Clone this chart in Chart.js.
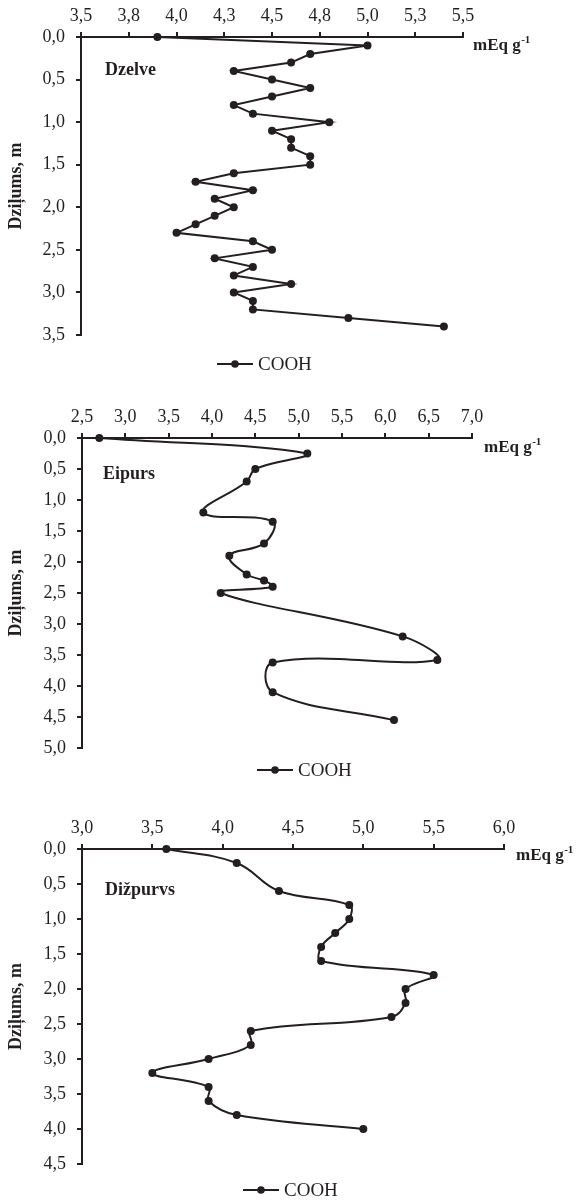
<!DOCTYPE html>
<html>
<head>
<meta charset="utf-8">
<script src="https://cdn.jsdelivr.net/npm/chart.js@4.4.1/dist/chart.umd.min.js"></script>
<style>
    body { margin: 0; background: #fff; }
    .panel { position: absolute; left: 0; width: 581px; }
    canvas { display: block; }
</style>
</head>
<body>
<div class="panel" style="top:0"><canvas id="dzelve" width="581" height="400"></canvas></div>
<div class="panel" style="top:400px"><canvas id="eipurs" width="581" height="400"></canvas></div>
<div class="panel" style="top:800px"><canvas id="dizpurvs" width="581" height="403"></canvas></div>
<script>
//Data: depth (m) and COOH (mEq g-1)
var dzelveDepth = [0.0, 0.1, 0.2, 0.3, 0.4, 0.5, 0.6, 0.7, 0.8, 0.9, 1.0, 1.1, 1.2, 1.3, 1.4, 1.5, 1.6, 1.7,
    1.8, 1.9, 2.0, 2.1, 2.2, 2.3, 2.4, 2.5, 2.6, 2.7, 2.8, 2.9, 3.0, 3.1, 3.2, 3.3, 3.4];
var dzelveCooh = [3.9, 5.0, 4.7, 4.6, 4.3, 4.5, 4.7, 4.5, 4.3, 4.4, 4.8, 4.5, 4.6, 4.6, 4.7, 4.7, 4.3, 4.1,
    4.4, 4.2, 4.3, 4.2, 4.1, 4.0, 4.4, 4.5, 4.2, 4.4, 4.3, 4.6, 4.3, 4.4, 4.4, 4.9, 5.4];
var dzelveXTicks = [3.5, 3.75, 4.0, 4.25, 4.5, 4.75, 5.0, 5.25, 5.5];
var dzelveYTicks = [0, 0.5, 1.0, 1.5, 2.0, 2.5, 3.0, 3.5];

var eipursDepth = [0.0, 0.25, 0.5, 0.7, 1.2, 1.35, 1.7, 1.9, 2.2, 2.3, 2.4, 2.5, 3.2, 3.58, 3.62, 4.1, 4.55];
var eipursCooh = [2.7, 5.1, 4.5, 4.4, 3.9, 4.7, 4.6, 4.2, 4.4, 4.6, 4.7, 4.1, 6.2, 6.6, 4.7, 4.7, 6.1];
var eipursXTicks = [2.5, 3.0, 3.5, 4.0, 4.5, 5.0, 5.5, 6.0, 6.5, 7.0];
var eipursYTicks = [0, 0.5, 1.0, 1.5, 2.0, 2.5, 3.0, 3.5, 4.0, 4.5, 5.0];

var dizpurvsDepth = [0.0, 0.2, 0.6, 0.8, 1.0, 1.2, 1.4, 1.6, 1.8, 2.0, 2.2, 2.4, 2.6, 2.8, 3.0, 3.2, 3.4, 3.6, 3.8, 4.0];
var dizpurvsCooh = [3.6, 4.1, 4.4, 4.9, 4.9, 4.8, 4.7, 4.7, 5.5, 5.3, 5.3, 5.2, 4.2, 4.2, 3.9, 3.5, 3.9, 3.9, 4.1, 5.0];
var dizpurvsXTicks = [3.0, 3.5, 4.0, 4.5, 5.0, 5.5, 6.0];
var dizpurvsYTicks = [0, 0.5, 1.0, 1.5, 2.0, 2.5, 3.0, 3.5, 4.0, 4.5];

var seriesLabel = "COOH";
var yTitle = "Dziļums, m";
var ink = "#231f20";
var serif = "'Liberation Serif', 'Times New Roman', serif";

//Decimal comma, one digit
function fmt(v) {
    return Number(v).toFixed(1).replace(".", ",");
}

//Site name, unit and legend drawn around the plot
var panelText = {
    id: "panelText",
    afterDraw: function (chart, args, o) {
        var ctx = chart.ctx, a = chart.chartArea;
        ctx.save();
        ctx.fillStyle = ink;
        ctx.strokeStyle = ink;
        ctx.textAlign = "left";
        ctx.textBaseline = "alphabetic";
        ctx.font = "bold 18px " + serif;
        ctx.fillText(o.site, o.siteX, a.top + o.siteDy);

        var ux = a.right + o.unitDx, uy = a.top + o.unitDy;
        ctx.font = "bold 17px " + serif;
        ctx.fillText("mEq g", ux, uy);
        var w = ctx.measureText("mEq g").width;
        ctx.font = "bold 11px " + serif;
        ctx.fillText("-1", ux + w + 0.5, uy - 7);

        var lx = o.legendX, ly = a.bottom + o.legendDy;
        ctx.lineWidth = 2;
        ctx.beginPath();
        ctx.moveTo(lx, ly);
        ctx.lineTo(lx + 36, ly);
        ctx.stroke();
        ctx.beginPath();
        ctx.arc(lx + 18, ly, 3.8, 0, Math.PI * 2);
        ctx.fill();
        ctx.font = "19px " + serif;
        ctx.textBaseline = "middle";
        ctx.fillText(chart.data.datasets[0].label, lx + 41, ly + 1);
        ctx.restore();
    }
};

function makeChart(id, depth, cooh, xTicks, yTicks, o) {
    var points = [];
    for (var i = 0; i < depth.length; i++)
        points.push({x: cooh[i], y: depth[i]});

    return new Chart(document.getElementById(id), {
        type: "scatter",
        data: {
            datasets: [{
                    label: seriesLabel,
                    data: points,
                    showLine: true,
                    tension: o.tension,
                    borderColor: ink,
                    borderWidth: 2,
                    pointRadius: 4,
                    pointBackgroundColor: ink,
                    pointBorderColor: ink,
                    pointBorderWidth: 0,
                    clip: false
                }]
        },
        options: {
            responsive: false,
            animation: false,
            layout: {padding: o.pad},
            plugins: {
                legend: {display: false},
                tooltip: {enabled: false},
                panelText: o.text
            },
            scales: {
                x: {
                    type: "linear",
                    position: "top",
                    min: xTicks[0],
                    max: xTicks[xTicks.length - 1],
                    afterBuildTicks: function (s) {
                        s.ticks = xTicks.map(function (v) { return {value: v}; });
                    },
                    afterFit: function (s) { s.height = o.xh; },
                    ticks: {
                        callback: fmt,
                        autoSkip: false,
                        maxRotation: 0,
                        padding: 5,
                        color: ink,
                        font: {family: serif, size: 18}
                    },
                    grid: {drawOnChartArea: false, tickLength: 5, lineWidth: 2, color: ink},
                    border: {color: ink, width: 2}
                },
                y: {
                    type: "linear",
                    reverse: true,
                    min: yTicks[0],
                    max: yTicks[yTicks.length - 1],
                    afterBuildTicks: function (s) {
                        s.ticks = yTicks.map(function (v) { return {value: v}; });
                    },
                    afterFit: function (s) { s.width = o.yw; },
                    title: {
                        display: true,
                        text: yTitle,
                        color: ink,
                        padding: {top: 6, bottom: 0},
                        font: {family: serif, size: 18, weight: "bold"}
                    },
                    ticks: {
                        callback: fmt,
                        autoSkip: false,
                        padding: 11,
                        color: ink,
                        font: {family: serif, size: 18}
                    },
                    grid: {drawOnChartArea: false, tickLength: 5, lineWidth: 2, color: ink},
                    border: {color: ink, width: 2}
                }
            }
        },
        plugins: [panelText]
    });
}

makeChart("dzelve", dzelveDepth, dzelveCooh, dzelveXTicks, dzelveYTicks, {
    tension: 0,
    pad: {left: 0, top: 0, right: 118, bottom: 65},
    xh: 37, yw: 81,
    text: {site: "Dzelve", siteX: 105, siteDy: 38, unitDx: 10, unitDy: 13, legendX: 217, legendDy: 29}
});
makeChart("eipurs", eipursDepth, eipursCooh, eipursXTicks, eipursYTicks, {
    tension: 0.4,
    pad: {left: 0, top: 0, right: 109, bottom: 52},
    xh: 38, yw: 82,
    text: {site: "Eipurs", siteX: 103, siteDy: 41, unitDx: 12, unitDy: 14, legendX: 257, legendDy: 22}
});
makeChart("dizpurvs", dizpurvsDepth, dizpurvsCooh, dizpurvsXTicks, dizpurvsYTicks, {
    tension: 0.4,
    pad: {left: 0, top: 0, right: 77, bottom: 39},
    xh: 49, yw: 82,
    text: {site: "Dižpurvs", siteX: 105, siteDy: 46, unitDx: 12, unitDy: 11, legendX: 243, legendDy: 26}
});
</script>
</body>
</html>
